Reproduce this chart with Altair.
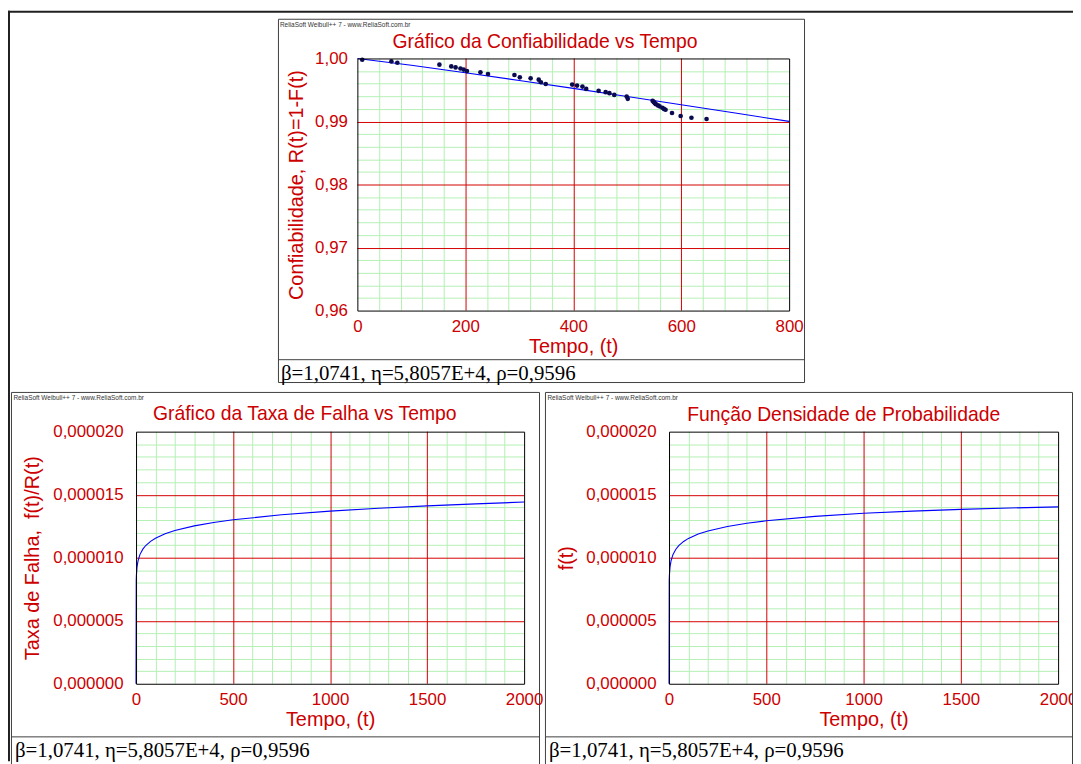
import altair as alt
import pandas as pd

FONT = "Liberation Sans"
SERIF = "Liberation Serif"
RED = "#CC0000"
GRID_RED = "#D40000"
GREEN = "#B4F0B4"
BLUE = "#0000FF"
DOT = "#0A0A50"
BOX = "#404040"

W, H = 1073, 756

# ---------------- data ----------------
# Reliability: fitted line
rel_t = [0, 100, 200, 300, 400, 500, 600, 700, 800]
rel_r = [1.0, 0.99893, 0.99774, 0.99651, 0.99525, 0.99396, 0.99266, 0.99134, 0.99002]

# Reliability: plotted data points
pts_t = [9, 63, 74, 152, 174, 182, 191, 197, 203, 228, 242, 291, 301, 321, 336, 340, 349,
         398, 407, 417, 424, 447, 460, 467, 476, 499, 501, 547, 549, 551, 553, 557, 560,
         565, 568, 571, 583, 599, 619, 647]
pts_r = [0.9998, 0.99953, 0.99932, 0.99901, 0.99874, 0.99858, 0.9984, 0.99824, 0.998,
         0.9978, 0.99753, 0.99737, 0.99701, 0.99685, 0.99664, 0.99622, 0.99595,
         0.99585, 0.9957, 0.99554, 0.99517, 0.99486, 0.99465, 0.99449, 0.99422, 0.99396,
         0.99359, 0.99328, 0.9931, 0.99291, 0.99275, 0.99255, 0.9924, 0.99218, 0.992,
         0.99186, 0.99134, 0.99087, 0.9906, 0.9904]

# Failure rate curve
haz_t = [0, 1, 2, 5, 10, 20, 35, 50, 75, 100, 150, 200, 300, 400, 500, 750, 1000, 1250, 1500, 1750, 2000]
haz_v = [0.0, 8.21e-6, 8.64e-6, 9.25e-6, 9.73e-6, 1.0246e-5, 1.068e-5, 1.0967e-5, 1.130e-5,
         1.1545e-5, 1.190e-5, 1.2153e-5, 1.2523e-5, 1.2793e-5, 1.3008e-5, 1.3404e-5,
         1.3694e-5, 1.3922e-5, 1.4111e-5, 1.4272e-5, 1.4414e-5]

# Probability density curve
pdf_t = [0, 1, 2, 5, 10, 20, 35, 50, 75, 100, 150, 200, 300, 400, 500, 750, 1000, 1250, 1500, 1750, 2000]
pdf_v = [0.0, 8.21e-6, 8.64e-6, 9.25e-6, 9.73e-6, 1.0244e-5, 1.0676e-5, 1.0961e-5, 1.1291e-5,
         1.1533e-5, 1.188e-5, 1.2126e-5, 1.2479e-5, 1.2732e-5, 1.2929e-5, 1.3279e-5,
         1.3521e-5, 1.3698e-5, 1.3836e-5, 1.3944e-5, 1.4031e-5]

# grid / tick values
top_x_ticks = [0, 200, 400, 600, 800]
top_x_major = [200, 400, 600]
top_x_minor = [40, 80, 120, 160, 240, 280, 320, 360, 440, 480, 520, 560, 640, 680, 720, 760]
top_y_ticks = [0.96, 0.97, 0.98, 0.99, 1.0]
top_y_major = [0.97, 0.98, 0.99]
top_y_minor = [0.962, 0.964, 0.966, 0.968, 0.972, 0.974, 0.976, 0.978, 0.982, 0.984, 0.986,
               0.988, 0.992, 0.994, 0.996, 0.998]
bot_x_ticks = [0, 500, 1000, 1500, 2000]
bot_x_major = [500, 1000, 1500]
bot_x_minor = [100, 200, 300, 400, 600, 700, 800, 900, 1100, 1200, 1300, 1400, 1600, 1700,
               1800, 1900]
bot_y_ticks = [0.0, 5e-6, 1e-5, 1.5e-5, 2e-5]
bot_y_major = [5e-6, 1e-5, 1.5e-5]
bot_y_minor = [1e-6, 2e-6, 3e-6, 4e-6, 6e-6, 7e-6, 8e-6, 9e-6, 1.1e-5, 1.2e-5, 1.3e-5, 1.4e-5,
               1.6e-5, 1.7e-5, 1.8e-5, 1.9e-5]

watermark = "ReliaSoft Weibull++ 7 - www.ReliaSoft.com.br"
params = "β=1,0741, η=5,8057E+4, ρ=0,9596"


def one():
    return pd.DataFrame({"k": [0]})


def text_layer(txt, x, y, size, color, font, align="center"):
    return alt.Chart(one()).mark_text(
        text=txt, fontSize=size, color=color, font=font, align=align, baseline="alphabetic"
    ).encode(x=alt.value(x), y=alt.value(y))


def box_layer(x0, x1, y0, y1, color=BOX, width=1.0):
    return alt.Chart(one()).mark_rect(fillOpacity=0, stroke=color, strokeWidth=width).encode(
        x=alt.value(x0), x2=alt.value(x1), y=alt.value(y0), y2=alt.value(y1))


def rule_layer(x0, x1, y0, y1, color=BOX, width=1.0):
    return alt.Chart(one()).mark_rule(color=color, strokeWidth=width).encode(
        x=alt.value(x0), x2=alt.value(x1), y=alt.value(y0), y2=alt.value(y1))


def vrules(vals, xs, y0, y1, color):
    return alt.Chart(pd.DataFrame({"v": vals})).mark_rule(
        color=color, strokeWidth=1, xOffset=0.5).encode(
        x=alt.X("v:Q", scale=xs, axis=None), y=alt.value(y0), y2=alt.value(y1))


def hrules(vals, ys, x0, x1, color):
    return alt.Chart(pd.DataFrame({"v": vals})).mark_rule(
        color=color, strokeWidth=1, yOffset=0.5).encode(
        y=alt.Y("v:Q", scale=ys, axis=None), x=alt.value(x0), x2=alt.value(x1))


def x_axis(values, offset, title, title_x, label_expr):
    return alt.Axis(
        values=values, orient="bottom", offset=offset, grid=False, ticks=False, tickSize=0,
        domain=False, labelColor=RED, labelFont=FONT, labelFontSize=17, labelPadding=8,
        labelFlush=False, labelOverlap=False, labelExpr=label_expr,
        title=title, titleColor=RED, titleFont=FONT, titleFontSize=20, titleFontWeight="normal",
        titleX=title_x, titleY=42, titleAlign="center", titleBaseline="alphabetic")


def y_axis(values, offset, title, title_x, title_y, label_expr, pad):
    return alt.Axis(
        values=values, orient="left", offset=offset, grid=False, ticks=False, tickSize=0,
        domain=False, labelColor=RED, labelFont=FONT, labelFontSize=17, labelPadding=pad,
        labelFlush=False, labelOverlap=False, labelExpr=label_expr,
        title=title, titleColor=RED, titleFont=FONT, titleFontSize=20, titleFontWeight="normal",
        titleX=title_x, titleY=title_y, titleAngle=270, titleAlign="center",
        titleBaseline="middle")


def panel(area, xdom, ydom, xminor, xmajor, yminor, ymajor, t, v, xaxis, yaxis,
          dots_t=None, dots_v=None):
    """Returns a flat list of unit layers; every layer repeats the same explicit scales."""
    x0, x1, y0, y1 = area
    xs = alt.Scale(domain=xdom, range=[x0, x1], nice=False, zero=False)
    ys = alt.Scale(domain=ydom, range=[y1, y0], nice=False, zero=False)
    # rounded copies of the same scales for crisp 1px grid lines
    xr = alt.Scale(domain=xdom, range=[x0, x1], nice=False, zero=False, round=True)
    yr = alt.Scale(domain=ydom, range=[y1, y0], nice=False, zero=False, round=True)
    layers = [
        vrules(xminor, xr, y0, y1, GREEN),
        hrules(yminor, yr, x0, x1, GREEN),
        vrules(xmajor, xr, y0, y1, GRID_RED),
        hrules(ymajor, yr, x0, x1, GRID_RED),
    ]
    curve = pd.DataFrame({"t": t, "v": v, "i": list(range(len(t)))})
    layers.append(
        alt.Chart(curve).mark_line(color=BLUE, strokeWidth=1.1).encode(
            x=alt.X("t:Q", scale=xs, axis=xaxis),
            y=alt.Y("v:Q", scale=ys, axis=yaxis),
            order="i:Q"))
    if dots_t is not None:
        dots = pd.DataFrame({"t": dots_t, "v": dots_v})
        layers.append(
            alt.Chart(dots).mark_point(filled=True, color=DOT, size=22, opacity=1).encode(
                x=alt.X("t:Q", scale=xs, axis=None),
                y=alt.Y("v:Q", scale=ys, axis=None)))
    layers.append(box_layer(x0 + 0.5, x1 + 0.5, y0 + 0.5, y1 + 0.5, color="#000000", width=1))
    return layers


fmt2 = "replace(format(datum.value, '.2f'), '.', ',')"
fmt6 = "replace(format(datum.value, '.6f'), '.', ',')"
fmtd = "format(datum.value, 'd')"

# plot areas (left, right, top, bottom) in chart pixels
TOP = (352, 787, 48, 302)
BL = (129, 520, 424, 678)
BR = (666, 1058, 424, 678)

top_layers = panel(
    TOP, [0, 800], [0.96, 1.0], top_x_minor, top_x_major, top_y_minor, top_y_major,
    rel_t, rel_r,
    x_axis(top_x_ticks, TOP[3] - H, "Tempo, (t)", (TOP[0] + TOP[1]) / 2, fmtd),
    y_axis(top_y_ticks, -TOP[0], "Confiabilidade, R(t)=1-F(t)", 291 - TOP[0], 175, fmt2, 10),
    pts_t, pts_r)

bl_layers = panel(
    BL, [0, 2000], [0, 2e-5], bot_x_minor, bot_x_major, bot_y_minor, bot_y_major,
    haz_t, haz_v,
    x_axis(bot_x_ticks, BL[3] - H, "Tempo, (t)", (BL[0] + BL[1]) / 2, fmtd),
    y_axis(bot_y_ticks, -BL[0], "Taxa de Falha,\u00a0 f(t)/R(t)", 25 - BL[0], 551, fmt6, 13))

br_layers = panel(
    BR, [0, 2000], [0, 2e-5], bot_x_minor, bot_x_major, bot_y_minor, bot_y_major,
    pdf_t, pdf_v,
    x_axis(bot_x_ticks, BR[3] - H, "Tempo, (t)", (BR[0] + BR[1]) / 2, fmtd),
    y_axis(bot_y_ticks, -BR[0], "f(t)", 563 - BR[0], 551, fmt6, 13))

deco = [
    # outer frame
    rule_layer(0, W, 1, 1, color="#202020", width=2),
    rule_layer(1, 1, 0, H, color="#202020", width=2),
    # top panel frame
    box_layer(272.5, 802.5, 8.5, 374.5),
    rule_layer(272.5, 802.5, 351.5, 351.5),
    text_layer(watermark, 274, 16, 6.5, "#333333", FONT, align="left"),
    text_layer("Gráfico da Confiabilidade vs Tempo", 541, 37.5, 19.5, RED, FONT),
    text_layer(params, 275, 372, 21, "#000000", SERIF, align="left"),
    # bottom-left panel frame
    box_layer(3.5, 535.5, 384.5, 760),
    rule_layer(3.5, 535.5, 731.5, 731.5),
    text_layer(watermark, 5.5, 392, 6.5, "#333333", FONT, align="left"),
    text_layer("Gráfico da Taxa de Falha vs Tempo", 299, 412, 19.5, RED, FONT),
    text_layer(params, 7, 752, 21, "#000000", SERIF, align="left"),
    # bottom-right panel frame
    box_layer(541.5, 1072.5, 384.5, 760),
    rule_layer(541.5, 1072.5, 731.5, 731.5),
    text_layer(watermark, 543.5, 392, 6.5, "#333333", FONT, align="left"),
    text_layer("Função Densidade de Probabilidade", 842, 413, 19.5, RED, FONT),
    text_layer(params, 545, 752, 21, "#000000", SERIF, align="left"),
]

chart = (
    alt.layer(*deco, *top_layers, *bl_layers, *br_layers)
    .resolve_scale(x="independent", y="independent")
    .resolve_axis(x="independent", y="independent")
    .properties(width=W, height=H, padding=0, background="white",
                autosize=alt.AutoSizeParams(type="none"))
    .configure_view(stroke="transparent")
)

chart.save("out.html", embed_options={"renderer": "svg", "actions": False})
